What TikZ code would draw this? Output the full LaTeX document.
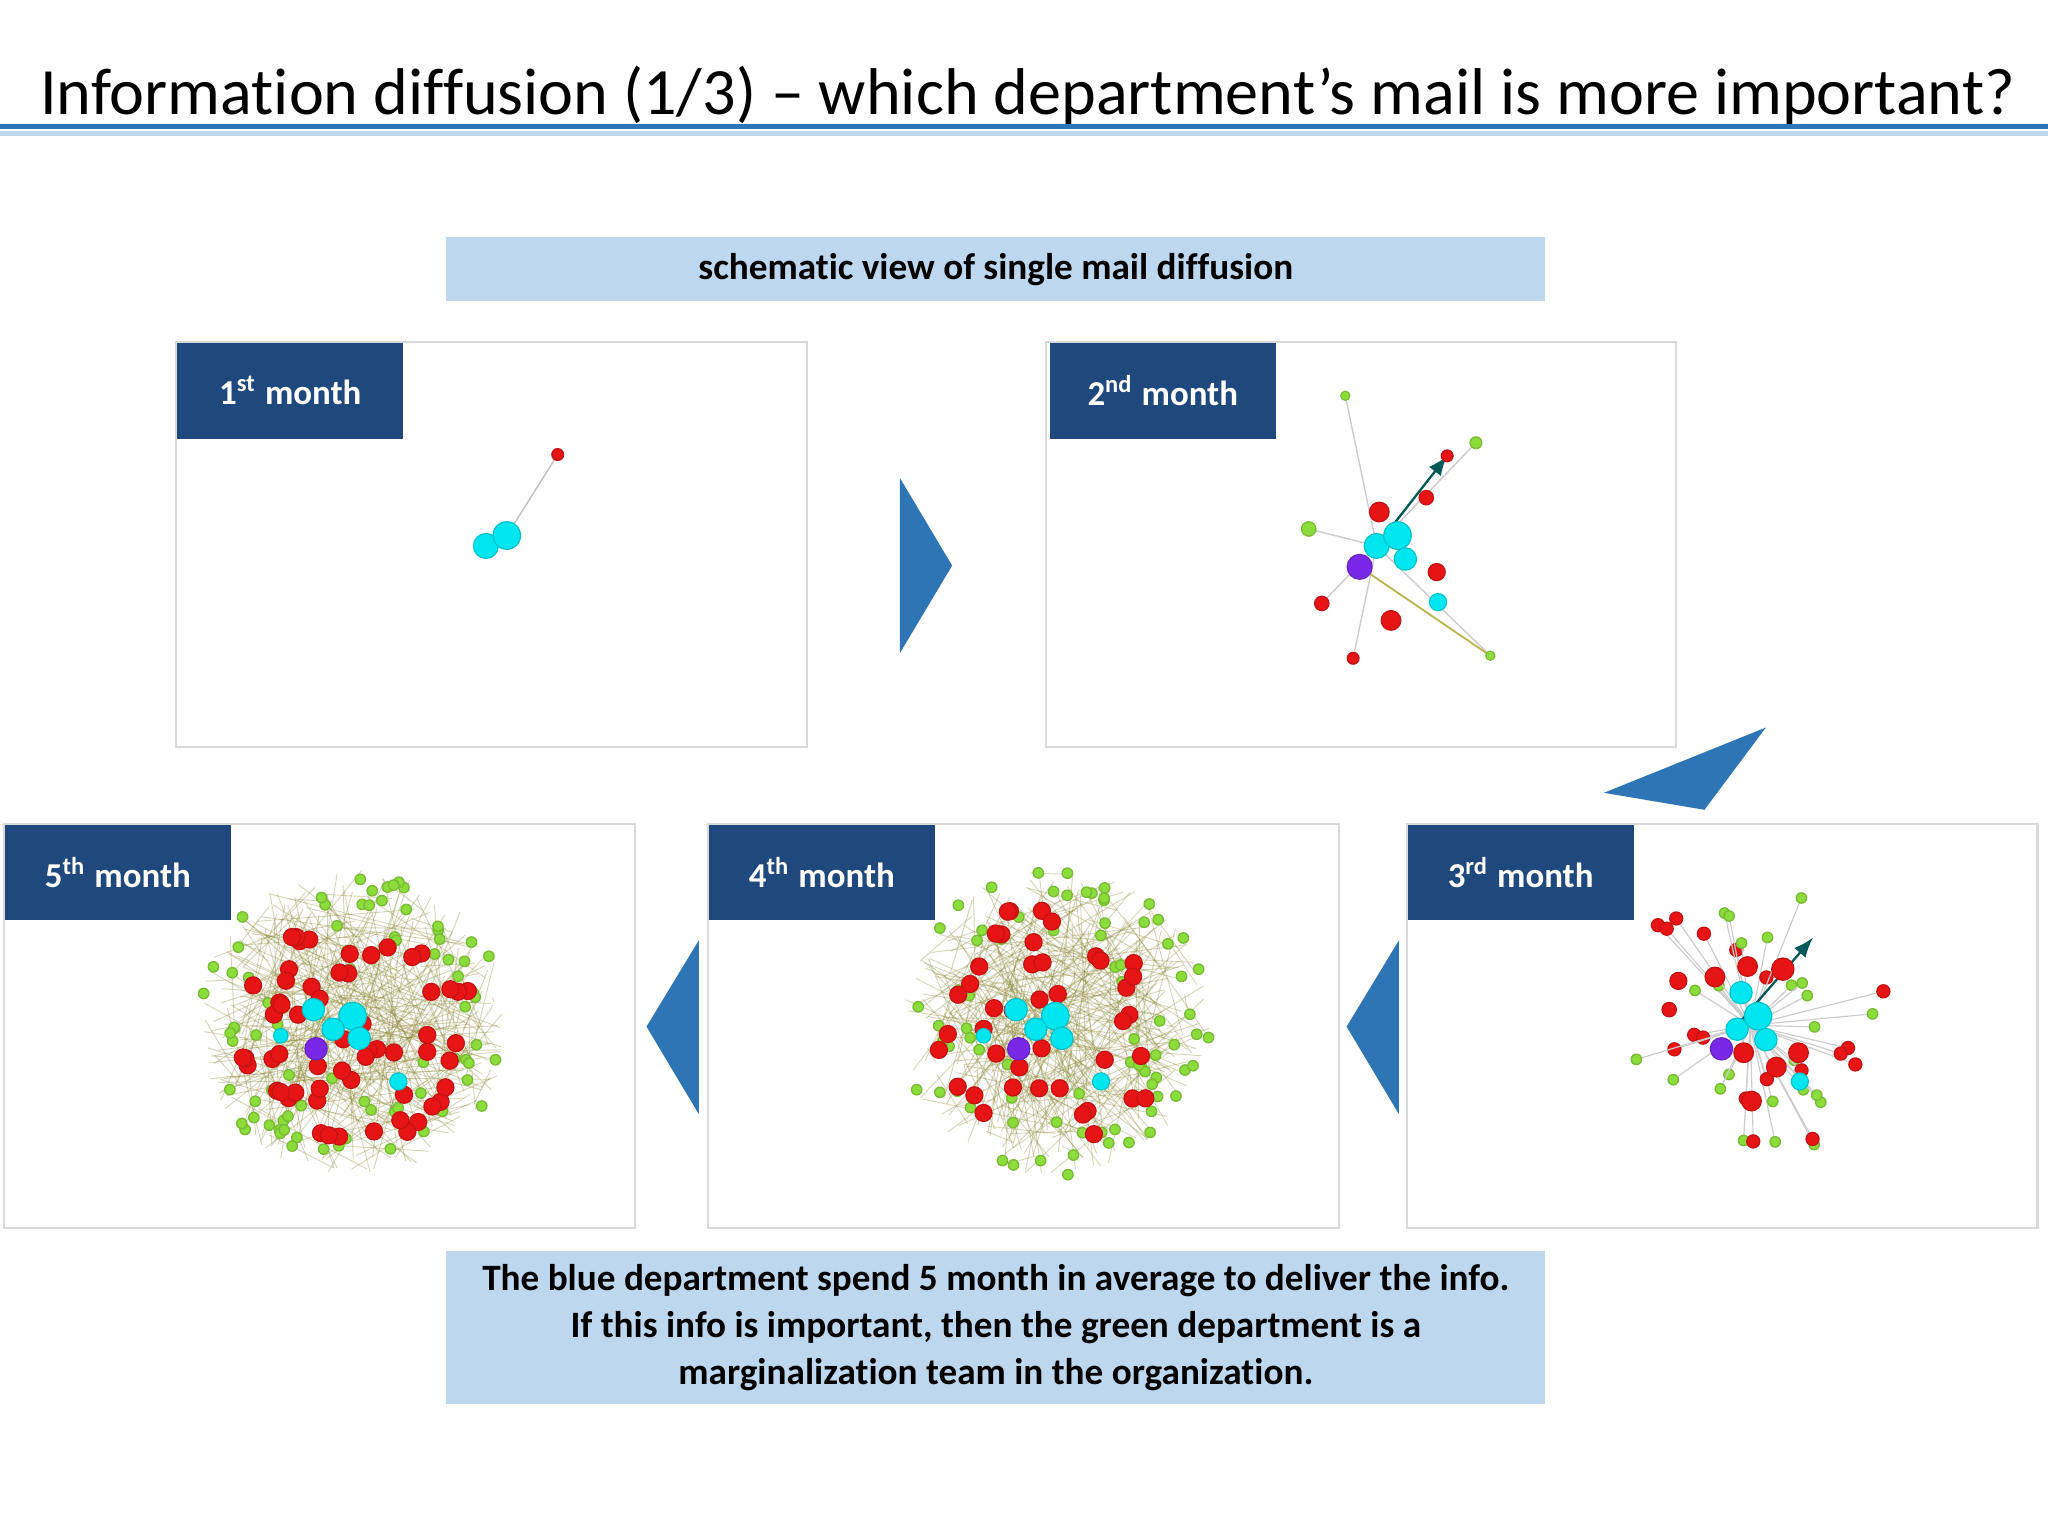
\documentclass[tikz,border=0pt]{standalone}
\usepackage{fontspec}
\setmainfont{Carlito}[Ligatures=NoCommon]
\definecolor{hdr}{RGB}{31,73,125}
\definecolor{tri}{RGB}{46,117,182}
\definecolor{lb}{RGB}{189,215,238}
\definecolor{cy}{RGB}{0,230,240}
\definecolor{rd}{RGB}{230,20,20}
\definecolor{gr}{RGB}{140,220,60}
\definecolor{pu}{RGB}{120,40,230}
\tikzset{panel/.style={draw=black!15,line width=0.5pt},
 lbl/.style={fill=hdr,text=white,font=\bfseries\fontsize{7.6}{9}\selectfont,minimum width=1.73cm,minimum height=0.73cm,inner sep=0,anchor=north west},
 note/.style={fill=lb,align=center,font=\bfseries\fontsize{8.1}{10.2}\selectfont,inner sep=0},
 arr/.style={fill=tri,draw=none}}
\newcommand\dt[4]{\fill[#4!85!black] (#1,#2) circle[radius=#3*0.01cm+0.01cm];\fill[#4] (#1,#2) circle[radius=#3*0.01cm];}
\newcommand\cloud[5]{% cx cy R seed nred
 \pgfmathsetseed{#4}
 \foreach \k in {1,...,300}{\pgfmathsetmacro\aa{rnd*360}\pgfmathsetmacro\da{#3*sqrt(rnd)}\pgfmathsetmacro\ab{rnd*360}\pgfmathsetmacro\db{#3*sqrt(rnd)}
  \draw[olive!60!gray,opacity=0.35,line width=0.2pt] ({#1+\da*cos(\aa)},{#2+\da*sin(\aa)}) -- ({#1+\db*cos(\ab)},{#2+\db*sin(\ab)});}
 \foreach \k in {1,...,80}{\pgfmathsetmacro\aa{rnd*360}\pgfmathsetmacro\da{#3*(0.3+0.7*sqrt(rnd))}
  \dt{{#1+\da*cos(\aa)}}{{#2+\da*sin(\aa)}}{3.5}{gr}}
 \foreach \k in {1,...,#5}{\pgfmathsetmacro\aa{rnd*360}\pgfmathsetmacro\da{#3*0.8*sqrt(rnd)}
  \dt{{#1+\da*cos(\aa)}}{{#2+\da*sin(\aa)}}{6}{rd}}
 \dt{#1-30}{#2-10}{8}{cy}\dt{#1}{#2-5}{10}{cy}\dt{#1+5}{#2+12}{8}{cy}\dt{#1-15}{#2+5}{8}{cy}\dt{#1+35}{#2+45}{6}{cy}\dt{#1-55}{#2+10}{5}{cy}
 \dt{#1-28}{#2+20}{8}{pu}}
\begin{document}
\begin{tikzpicture}[x=0.01cm,y=-0.01cm]
\useasboundingbox (0,0) rectangle (1568,1176);
\fill[white] (0,0) rectangle (1568,1176);
\node[anchor=base west,inner sep=0,font=\fontsize{14.4}{17}\selectfont] (title) at (30,88) {Information diffusion (1/3) -- which department’s mail is more important?};
\fill[tri] (0,95) rectangle (1568,99);
\fill[lb] (0,100) rectangle (1568,104);
\node[note,minimum width=8.41cm,minimum height=0.49cm,anchor=north west] (top) at (341,181) {schematic view of single mail diffusion};
\node[note,minimum width=8.41cm,minimum height=1.17cm,anchor=north west] (bot) at (341,957) {The blue department spend 5 month in average to deliver the info.\\If this info is important, then the green department is a\\marginalization team in the organization.};
% panels
\draw[panel] (135,262) rectangle (618,572);
\draw[panel] (801,262) rectangle (1283,572);
\draw[panel] (1077,631) rectangle (1560,940);
\draw[panel] (542,631) rectangle (1025,940);
\draw[panel] (3,631) rectangle (486,940);
% arrows
\fill[arr] (689,366) -- (729,433) -- (689,500) -- cycle;
\fill[arr] (1228,607) -- (1352,557) -- (1305,620) -- cycle;
\fill[arr] (1071,720) -- (1031,786) -- (1071,853) -- cycle;
\fill[arr] (535,720) -- (495,786) -- (535,853) -- cycle;
% month 1
\draw[black!25,line width=0.3pt] (388,410) -- (427,348);
\dt{372}{418}{9}{cy}\dt{388}{410}{10}{cy}\dt{427}{348}{4}{rd}
% month 2
\foreach \p in {(1030,303),(1130,339),(1002,405),(1141,502),(1108,349),(1012,462),(1036,504)}
 \draw[black!20,line width=0.3pt] (1054,418) -- \p;
\draw[teal!70!black,line width=0.5pt,-latex] (1054,418) -- (1108,349);
\draw[olive!60,line width=0.4pt] (1041,434) -- (1141,502);
\dt{1030}{303}{3}{gr}\dt{1130}{339}{4}{gr}\dt{1002}{405}{5}{gr}\dt{1141}{502}{3}{gr}
\dt{1056}{392}{7}{rd}\dt{1092}{381}{5}{rd}\dt{1108}{349}{4}{rd}\dt{1100}{438}{6}{rd}\dt{1012}{462}{5}{rd}\dt{1065}{475}{7}{rd}\dt{1036}{504}{4}{rd}
\dt{1054}{418}{9}{cy}\dt{1070}{410}{10}{cy}\dt{1076}{428}{8}{cy}\dt{1101}{461}{6}{cy}\dt{1041}{434}{9}{pu}
% month 3
\pgfmathsetseed{7}
\foreach \k in {1,...,42}{\pgfmathsetmacro\aa{rnd*360}\pgfmathsetmacro\da{35+75*rnd}
 \draw[black!20,line width=0.25pt] (1340,785) -- ({1340+\da*cos(\aa)},{785+0.95*\da*sin(\aa)});
 \pgfmathsetmacro\c{rnd}
 \ifdim\c pt<0.55pt \dt{{1340+\da*cos(\aa)}}{{785+0.95*\da*sin(\aa)}}{3.5}{gr}\else\dt{{1340+\da*cos(\aa)}}{{785+0.95*\da*sin(\aa)}}{4.5}{rd}\fi}
\draw[teal!70!black,line width=0.5pt,-latex] (1330,785) -- (1388,718);
\dt{1285}{751}{6}{rd}\dt{1313}{748}{7}{rd}\dt{1338}{740}{7}{rd}\dt{1365}{742}{8}{rd}\dt{1377}{806}{7}{rd}\dt{1360}{817}{7}{rd}\dt{1341}{843}{7}{rd}\dt{1335}{806}{7}{rd}\dt{1278}{773}{5}{rd}
\dt{1333}{760}{8}{cy}\dt{1346}{778}{10}{cy}\dt{1330}{788}{8}{cy}\dt{1352}{796}{8}{cy}\dt{1378}{828}{6}{cy}\dt{1318}{803}{8}{pu}
% month 4, 5
\cloud{808}{783}{118}{11}{42}
\cloud{270}{783}{118}{23}{60}
% labels
\node[lbl] (l1) at (135,262) {1\textsuperscript{st} month};
\node[lbl] (l2) at (803,262) {2\textsuperscript{nd} month};
\node[lbl] (l3) at (1077,631) {3\textsuperscript{rd} month};
\node[lbl] (l4) at (542,631) {4\textsuperscript{th} month};
\node[lbl] (l5) at (3,631) {5\textsuperscript{th} month};
\end{tikzpicture}
\end{document}
